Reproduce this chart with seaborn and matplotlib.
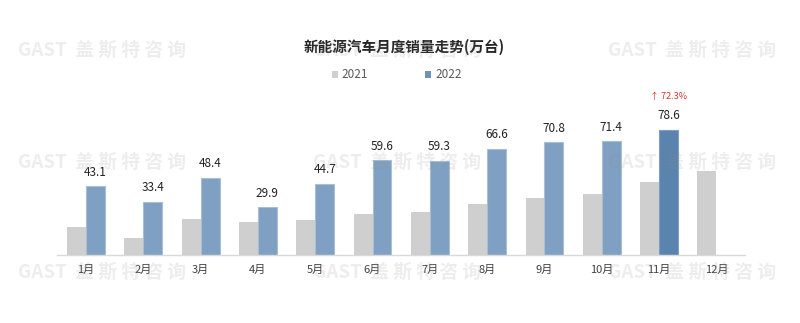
import matplotlib
matplotlib.use("Agg")
import matplotlib.pyplot as plt
import seaborn as sns
import pandas as pd
import numpy as np
from matplotlib.patches import Patch

months = ["1月", "2月", "3月", "4月", "5月", "6月", "7月", "8月", "9月", "10月", "11月", "12月"]
sales_2021 = [17.9, 11.0, 22.6, 20.6, 21.7, 25.6, 27.1, 32.1, 35.7, 38.3, 45.6, 53.1]
sales_2022 = [43.1, 33.4, 48.4, 29.9, 44.7, 59.6, 59.3, 66.6, 70.8, 71.4, 78.6, np.nan]
years = ["2021", "2022"]
growth_label = "↑ 72.3%"
title = "新能源汽车月度销量走势(万台)"
watermark = "GAST  盖 斯 特 咨 询"

sns.set_theme(style="white")
plt.rcParams["font.family"] = ["Noto Sans CJK SC", "DejaVu Sans"]

df = pd.DataFrame({
    "month": months * 2,
    "year": [years[0]] * 12 + [years[1]] * 12,
    "sales": sales_2021 + sales_2022,
})

c21 = "#cfcfcf"
c22 = "#7fa0c2"
c22_hi = "#5a83ad"

fig = plt.figure(figsize=(8, 3.23), dpi=100)
ax = fig.add_axes([57.4 / 800, 1 - 255 / 323, (745 - 57.4) / 800, 160 / 323])

sns.barplot(data=df, x="month", y="sales", hue="year", order=months, hue_order=years,
            palette={"2021": c21, "2022": c22}, width=0.66, gap=0, ax=ax,
            legend=False, saturation=1, errorbar=None)

# style bars
last_idx = int(np.nanargmax(np.array(sales_2022)))
for p in ax.patches:
    if p.get_facecolor()[:3] == matplotlib.colors.to_rgb(c22):
        p.set_edgecolor("#a9bfd6")
        p.set_linewidth(0.8)
    else:
        p.set_edgecolor("none")

# value labels for 2022
for i, v in enumerate(sales_2022):
    if np.isnan(v):
        continue
    xc = i + 0.165
    ax.annotate(f"{v:.1f}", (xc, v), xytext=(0, 5.5), textcoords="offset points",
                ha="center", va="bottom", fontsize=8.5, color="#222222")
    if i == last_idx:
        ax.annotate(growth_label, (xc, v), xytext=(0, 21), textcoords="offset points",
                    ha="center", va="bottom", fontsize=6.5, color="#e03030")

# highlight last 2022 bar
for p in ax.patches:
    if abs(p.get_height() - sales_2022[last_idx]) < 1e-6:
        p.set_facecolor(c22_hi)
        p.set_edgecolor("#7f9ec0")

ax.set_xlim(-0.5, len(months) - 0.5)
ax.set_ylim(0, 160 / 1.59)
ax.set_xlabel("")
ax.set_ylabel("")
ax.set_yticks([])
ax.tick_params(axis="x", length=0, pad=7, labelsize=8, labelcolor="#404040")
for s in ["top", "left", "right"]:
    ax.spines[s].set_visible(False)
ax.spines["bottom"].set_color("#d9d9d9")
ax.spines["bottom"].set_linewidth(1)
ax.set_facecolor("none")

fig.text(404 / 800, 1 - 47 / 323, title, ha="center", va="center",
         fontsize=10.5, fontweight="bold", color="#262626")

handles = [Patch(facecolor=c21, edgecolor="none"), Patch(facecolor="#6e92b8", edgecolor="none")]
fig.legend(handles, years, loc="center", bbox_to_anchor=(0.496, 1 - 75 / 323), ncol=2,
           frameon=False, fontsize=8.5, handlelength=0.5, handleheight=0.5,
           handletextpad=0.35, columnspacing=4.8, labelcolor="#595959")

# watermarks
for xw in [102, 397, 692]:
    for yw in [50, 162, 272]:
        fig.text(xw / 800, 1 - yw / 323, watermark, ha="center", va="center",
                 fontsize=13.5, fontweight="bold", color="#8c8c8c", alpha=0.15, zorder=10)

fig.savefig("out.png", dpi=100, facecolor="white")
